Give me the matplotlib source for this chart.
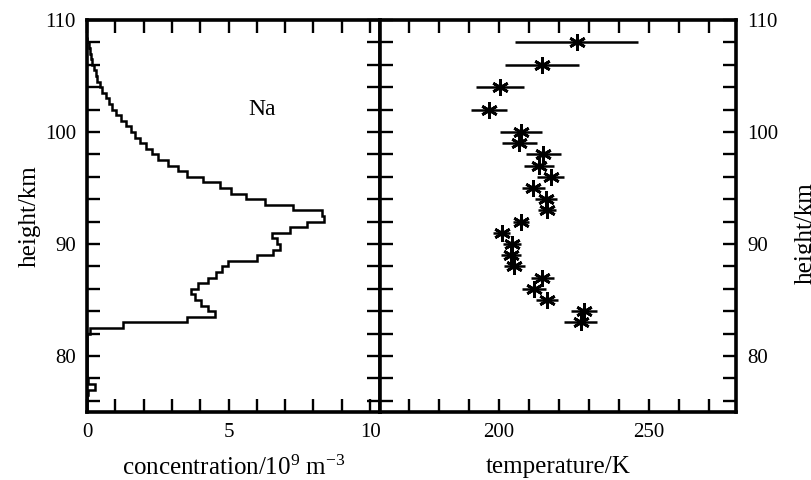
import numpy as np
import matplotlib
matplotlib.use("Agg")
import matplotlib.pyplot as plt

plt.rcParams['font.family'] = ['Liberation Serif', 'DejaVu Serif']
plt.rcParams['mathtext.fontset'] = 'custom'
plt.rcParams['mathtext.rm'] = 'Liberation Serif'
plt.rcParams['mathtext.it'] = 'Liberation Serif:italic'

# Na profile: 0.5 km height bins (lower edges 75.0 ... 108.0) and concentration / 1e9 m^-3
na_bin_width = 0.5
na_bottom = 75.0
na_conc = [0.0, 0.0, 0.0, 0.05, 0.3, 0.05,
           0.0, 0.0, 0.0, 0.0, 0.0, 0.0, 0.0, 0.0,
           0.1, 1.28, 3.54, 4.52, 4.29, 4.01, 3.82, 3.67, 3.93, 4.29,
           4.56, 4.76, 4.97, 6.02, 6.58, 6.82, 6.70, 6.53, 7.17, 7.76,
           8.37, 8.29, 7.29, 6.30, 5.60, 5.10, 4.70, 4.10, 3.55, 3.20,
           2.85, 2.50, 2.30, 2.10, 1.88, 1.70, 1.55, 1.38, 1.20, 1.02,
           0.90, 0.78, 0.66, 0.54, 0.46, 0.37, 0.31, 0.24, 0.19, 0.13,
           0.10, 0.06, 0.0]

# temperature profile
t_height = [108, 106, 104, 102, 100, 99, 98, 97, 96, 95, 94, 93, 92, 91,
            90, 89, 88, 87, 86, 85, 84, 83]
t_value = [225.9, 214.2, 200.3, 196.7, 207.3, 206.8, 214.8, 213.3, 217.2,
           211.4, 215.7, 215.9, 207.3, 200.9, 204.2, 204.0, 205.1, 214.4,
           211.8, 215.9, 228.3, 227.2]
t_err = [20.5, 12.3, 8.0, 5.9, 6.9, 5.7, 5.8, 5.0, 4.5, 3.8, 3.7, 3.0,
         2.8, 2.8, 3.0, 3.2, 3.5, 3.9, 4.0, 3.6, 4.2, 5.4]

fig = plt.figure(figsize=(8.11, 4.80), dpi=100)
W, H = 811, 480
ax1 = fig.add_axes([87 / W, 1 - 412 / H, (380 - 87) / W, (412 - 20) / H])
ax2 = fig.add_axes([380 / W, 1 - 412 / H, (736 - 380) / W, (412 - 20) / H])

edges = na_bottom + na_bin_width * np.arange(len(na_conc) + 1)
ax1.stairs(na_conc, edges, orientation='horizontal', baseline=None,
           color='black', linewidth=1.8)
ax1.text(6.2, 102.0, 'Na', fontsize=17, ha='center', va='center')

ax2.errorbar(t_value, t_height, xerr=t_err, fmt='none', ecolor='black',
             elinewidth=1.8, capsize=0)
ax2.plot(t_value, t_height, linestyle='none', marker=(6, 2, 0),
         markersize=12, markeredgewidth=2.0, color='black')

yt = np.arange(76, 111, 2)
for ax in (ax1, ax2):
    ax.set_ylim(75, 110)
    ax.set_yticks(yt)
    for s in ax.spines.values():
        s.set_linewidth(2.6)
    ax.tick_params(direction='in', length=9.5, width=1.7, top=True, right=True,
                   labelsize=15, pad=8)

ax1.set_xlim(0, 10.35)
ax1.set_xticks(np.arange(0, 11, 1))
ax1.set_xticklabels(['0', '', '', '', '', '5', '', '', '', '', '10'])
ax1.set_yticklabels(['' if v % 10 else str(v) for v in yt])
ax1.set_ylabel('height/km', fontsize=18, labelpad=3)
ax1.set_xlabel('concentration/10$^{9}$ m$^{-3}$', fontsize=18, labelpad=10)

ax2.set_xlim(160.3, 279)
ax2.set_xticks(np.arange(170, 280, 10))
ax2.set_xticklabels(['' if v % 50 else str(v) for v in np.arange(170, 280, 10)])
ax2.tick_params(labelleft=False, labelright=True)
ax2.set_yticklabels(['' if v % 10 else str(v) for v in yt])
ax2.set_xlabel('temperature/K', fontsize=18, labelpad=10)
fig.text(806 / W, 1 - 233 / H, 'height/km', fontsize=18, rotation=90,
         ha='center', va='center')

fig.savefig('out.png', dpi=100)
